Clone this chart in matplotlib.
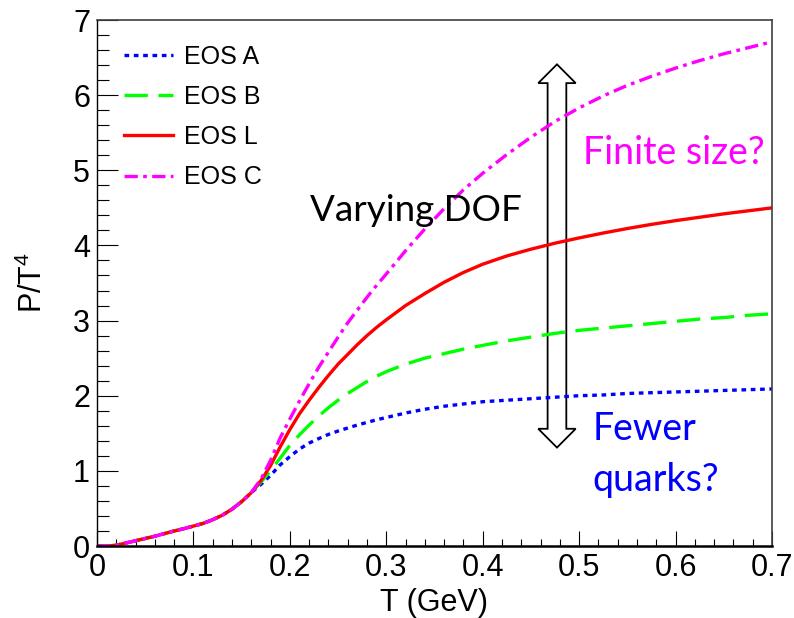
import matplotlib
matplotlib.use("Agg")
import matplotlib.pyplot as plt
from matplotlib.patches import Polygon

plt.rcParams['font.family'] = ['Liberation Sans', 'DejaVu Sans']
plt.rcParams['mathtext.fontset'] = 'custom'
plt.rcParams['mathtext.rm'] = 'Liberation Sans'
plt.rcParams['mathtext.it'] = 'Liberation Sans:italic'

# temperature grid (GeV) and P/T^4
T = [0.0, 0.01, 0.02, 0.03, 0.04, 0.05, 0.06, 0.07, 0.08, 0.09,
     0.10, 0.11, 0.12, 0.13, 0.14, 0.15, 0.16,
     0.17, 0.18, 0.19, 0.20, 0.21, 0.22, 0.23, 0.24, 0.25, 0.26,
     0.27, 0.28, 0.29, 0.30,
     0.32, 0.34, 0.36, 0.38, 0.40,
     0.425, 0.45, 0.475, 0.50, 0.525, 0.55, 0.575, 0.60, 0.625, 0.65,
     0.675, 0.70]

# all four EOS coincide below T ~ 0.16
low = [0.0, 0.0, 0.01, 0.04, 0.07, 0.10, 0.13, 0.165, 0.20, 0.23,
       0.265, 0.30, 0.35, 0.41, 0.49, 0.59, 0.71]

eos_a = low + [0.82, 0.94, 1.08, 1.19, 1.29, 1.37, 1.43, 1.485, 1.53, 1.57,
               1.61, 1.645, 1.68, 1.71,
               1.77, 1.82, 1.86, 1.89, 1.92,
               1.94, 1.96, 1.98, 2.00, 2.01, 2.03, 2.04, 2.05, 2.06, 2.07,
               2.08, 2.09]
eos_b = low + [0.85, 1.00, 1.17, 1.34, 1.48, 1.61, 1.73, 1.84, 1.94, 2.03,
               2.11, 2.19, 2.26, 2.32,
               2.42, 2.50, 2.56, 2.62, 2.67,
               2.73, 2.78, 2.83, 2.87, 2.90, 2.93, 2.96, 2.99, 3.02, 3.04,
               3.07, 3.09]
eos_l = low + [0.87, 1.07, 1.32, 1.55, 1.76, 1.94, 2.11, 2.27, 2.42, 2.55,
               2.68, 2.80, 2.91, 3.01,
               3.20, 3.36, 3.51, 3.64, 3.75,
               3.86, 3.95, 4.03, 4.10, 4.165, 4.225, 4.28, 4.33, 4.375, 4.42,
               4.46, 4.50]
eos_c = low + [0.89, 1.14, 1.44, 1.69, 1.93, 2.16, 2.38, 2.58, 2.78, 2.97,
               3.14, 3.31, 3.47, 3.62,
               3.93, 4.22, 4.49, 4.74, 4.96,
               5.21, 5.44, 5.65, 5.83, 5.99, 6.13, 6.25, 6.36, 6.46, 6.55,
               6.63, 6.71]

# double arrow: x centre, y range (data units)
ARROW_X = 0.477
ARROW_Y = (1.31, 6.41)

fig = plt.figure(figsize=(7.94, 6.18), dpi=100)
ax = fig.add_axes([97/794, 1-546/618, 675/794, 526/618])

lw = 2.4
ax.plot(T, eos_a, color='#0000ff', lw=lw, dashes=(1.4, 1.4), label='EOS A')
ax.plot(T, eos_b, color='#00ff00', lw=lw, dashes=(7, 3.2), label='EOS B')
ax.plot(T, eos_l, color='#ff0000', lw=lw, label='EOS L')
ax.plot(T, eos_c, color='#ff00ff', lw=lw, dashes=(4, 1.6, 1.1, 1.6), label='EOS C')

# hollow double-headed arrow
sw, hw, hl = 0.0097, 0.0194, 0.25
y0, y1 = ARROW_Y
x = ARROW_X
pts = [(x, y1), (x + hw, y1 - hl), (x + sw, y1 - hl), (x + sw, y0 + hl),
       (x + hw, y0 + hl), (x, y0), (x - hw, y0 + hl), (x - sw, y0 + hl),
       (x - sw, y1 - hl), (x - hw, y1 - hl)]
ax.add_patch(Polygon(pts, closed=True, fill=False, edgecolor='black', lw=1.3))

tf = ['Lato', 'DejaVu Sans']
ax.text(0.221, 4.33, 'Varying DOF', fontsize=26.5, family=tf, color='black')
ax.text(0.5036, 5.08, 'Finite size?', fontsize=27, family=tf, color='#ff00ff')
ax.text(0.514, 1.41, 'Fewer', fontsize=27, family=tf, color='#0000ff')
ax.text(0.514, 0.73, 'quarks?', fontsize=27, family=tf, color='#0000ff')

ax.set_xlim(0, 0.7)
ax.set_ylim(0, 7)
ax.set_xticks([0, 0.1, 0.2, 0.3, 0.4, 0.5, 0.6, 0.7])
ax.set_xticklabels(['0', '0.1', '0.2', '0.3', '0.4', '0.5', '0.6', '0.7'])
ax.set_xticks([i * 0.02 for i in range(36)], minor=True)
ax.set_yticks(range(8))
ax.set_yticks([i * 0.2 for i in range(36)], minor=True)

ax.tick_params(axis='both', which='both', direction='in', top=False, right=False,
               labelsize=22, width=0.8)
ax.tick_params(axis='x', which='major', length=10.8, pad=5)
ax.tick_params(axis='x', which='minor', length=4.8)
ax.tick_params(axis='y', which='major', length=15, pad=5)
ax.tick_params(axis='y', which='minor', length=8.6)

ax.spines['bottom'].set_linewidth(1.8)
ax.spines['left'].set_linewidth(1.0)
for s in ('top', 'right'):
    ax.spines[s].set_linewidth(1.2)
    ax.spines[s].set_color('#404040')

ax.set_xlabel('T (GeV)', fontsize=22, labelpad=3.5)
ax.set_ylabel(r'P/T$^{\mathrm{4}}$', fontsize=22, labelpad=17)

ax.legend(loc='upper left', bbox_to_anchor=(0.04, 0.953), frameon=False,
          fontsize=18, handlelength=1.95, handletextpad=0.45, labelspacing=0.65,
          borderpad=0, borderaxespad=0)

fig.savefig('out.png', dpi=100)
